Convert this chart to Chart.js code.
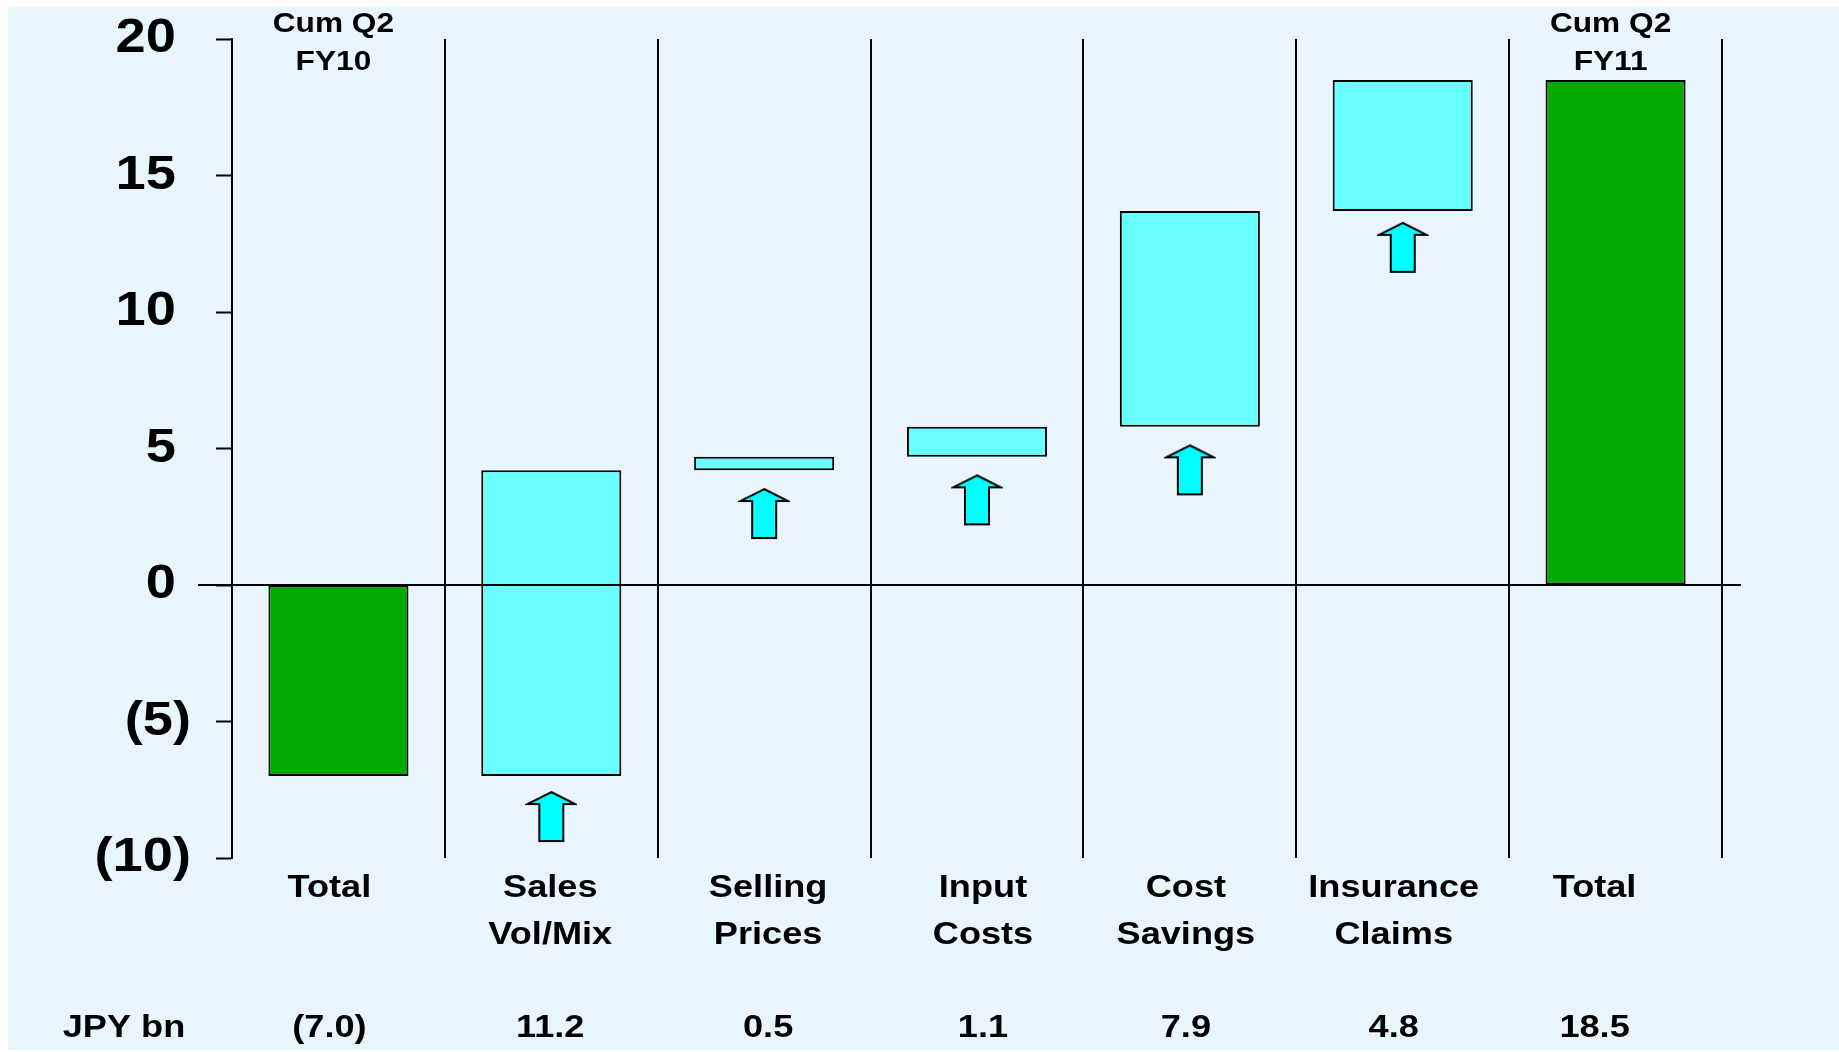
<!DOCTYPE html>
<html><head><meta charset="utf-8">
<script src="https://cdn.jsdelivr.net/npm/chart.js@4.4.1/dist/chart.umd.min.js"></script>
<style>html,body{margin:0;padding:0;background:#fff;overflow:hidden}canvas{display:block}</style>
</head><body>
<canvas id="c" width="1839" height="1052"></canvas>
<script>
// ---- data ----
const categories = [['Total'], ['Sales', 'Vol/Mix'], ['Selling', 'Prices'], ['Input', 'Costs'], ['Cost', 'Savings'], ['Insurance', 'Claims'], ['Total']];
const amounts = [-7.0, 11.2, 0.5, 1.1, 7.9, 4.8, 18.5];
const barKinds = ['total', 'step', 'step', 'step', 'step', 'step', 'total'];
const arrowLevels = [null, -8.5, 2.6, 3.1, 4.2, 12.35, null];
const topNotes = [['Cum Q2', 'FY10'], null, null, null, null, null, ['Cum Q2', 'FY11']];
const yTickValues = [-10, -5, 0, 5, 10, 15, 20];
const unitLabel = 'JPY bn';

// ---- styles ----
const FONT = "'Liberation Sans', Arial, Helvetica, sans-serif";
const BG = 'rgb(233,245,253)';
const GREEN = '#00AA00';
const CYAN = '#6AFFFF';
const ARROW = '#00FFFF';
const SX = 1.13;                       // horizontal text stretch of the original
const textShift = [-9, -1, 4, 6, -4, -9, -21];   // px nudges of the text boxes

// waterfall table built from the data
let run = 0;
const floating = amounts.map((v, i) => {
  if (barKinds[i] === 'total') { run = v; return [0, v]; }
  const s = run; run += v; return [s, run];
});
const fmt = v => v < 0 ? '(' + Math.abs(v).toFixed(1) + ')' : v.toFixed(1);

function makeArrow() {
  const c = document.createElement('canvas');
  c.width = 52; c.height = 54;
  const g = c.getContext('2d');
  g.beginPath();
  g.moveTo(26, 2); g.lineTo(50, 14); g.lineTo(38, 14); g.lineTo(38, 51);
  g.lineTo(14, 51); g.lineTo(14, 14); g.lineTo(2, 14); g.closePath();
  g.fillStyle = ARROW; g.fill();
  g.lineWidth = 2; g.strokeStyle = '#000'; g.lineJoin = 'miter'; g.stroke();
  return c;
}
const arrowImg = makeArrow();
const origFill = CanvasRenderingContext2D.prototype.fillText;

const deco = {
  id: 'deco',
  beforeDraw(chart) {
    const ctx = chart.ctx;
    ctx.save();
    ctx.fillStyle = '#fff';
    ctx.fillRect(0, 0, chart.width, chart.height);
    ctx.fillStyle = BG;
    ctx.fillRect(8, 7, chart.width - 8, 1043);
    ctx.restore();
    ctx.fillText = function (t, x, y) {
      this.save(); this.translate(x, y); this.scale(SX, 1);
      origFill.call(this, t, 0, 0); this.restore();
    };
  },
  afterDatasetsDraw(chart) {
    const ctx = chart.ctx, y = Math.round(chart.scales.y.getPixelForValue(0));
    ctx.save();
    ctx.strokeStyle = '#000'; ctx.lineWidth = 2;
    ctx.beginPath(); ctx.moveTo(198, y); ctx.lineTo(chart.chartArea.right + 19, y); ctx.stroke();
    ctx.restore();
  },
  afterDraw(chart) {
    const ctx = chart.ctx, xs = chart.scales.x;
    ctx.save();
    ctx.fillStyle = '#000';
    ctx.textAlign = 'center'; ctx.textBaseline = 'middle';
    ctx.font = 'bold 28px ' + FONT;
    topNotes.forEach((n, i) => {
      if (!n) return;
      const x = xs.getPixelForValue(i) - 5;
      ctx.fillText(n[0], x, 24);
      ctx.fillText(n[1], x, 62);
    });
    ctx.font = 'bold 32px ' + FONT;
    categories.forEach((lines, i) => {
      const x = xs.getPixelForValue(i) + textShift[i];
      lines.forEach((t, k) => ctx.fillText(t, x, 888 + k * 47));
    });
    ctx.fillText(unitLabel, 124, 1028);
    amounts.forEach((v, i) => {
      ctx.fillText(fmt(v), xs.getPixelForValue(i) + textShift[i], 1028);
    });
    ctx.restore();
    delete ctx.fillText;
  }
};

Chart.defaults.font.family = FONT;
new Chart(document.getElementById('c'), {
  type: 'bar',
  data: {
    labels: categories,
    datasets: [
      {
        type: 'line',
        data: arrowLevels,
        showLine: false,
        pointStyle: arrowImg,
        pointRadius: 3,
        pointHoverRadius: 3
      },
      {
        data: floating,
        backgroundColor: barKinds.map(k => k === 'total' ? GREEN : CYAN),
        borderColor: '#000',
        borderWidth: 2,
        borderSkipped: false,
        categoryPercentage: 1,
        barPercentage: 0.658
      }
    ]
  },
  options: {
    responsive: false,
    animation: false,
    devicePixelRatio: 1,
    events: [],
    layout: { padding: { left: 0, right: 117, top: 39, bottom: 0 } },
    plugins: { legend: { display: false }, tooltip: { enabled: false } },
    scales: {
      x: {
        offset: true,
        grid: { offset: true, color: '#000', lineWidth: 2, drawTicks: false },
        border: { display: false },
        ticks: { display: false },
        afterFit: s => { s.height = 194; s.paddingLeft = 0; s.paddingRight = 0; }
      },
      y: {
        min: -10, max: 20,
        afterBuildTicks: s => { s.ticks = yTickValues.map(v => ({ value: v })); },
        grid: { drawOnChartArea: false, drawTicks: true, tickLength: 16, tickColor: '#000', tickWidth: 2 },
        border: { display: true, color: '#000', width: 2 },
        ticks: {
          color: '#000', padding: 25,
          font: { size: 48, weight: 'bold' },
          callback: v => v < 0 ? '(' + (-v) + ')' : v + '\u2008'
        },
        afterFit: s => { s.width = 232; s.paddingTop = 0; s.paddingBottom = 0; }
      }
    }
  },
  plugins: [deco]
});
</script>
</body></html>
